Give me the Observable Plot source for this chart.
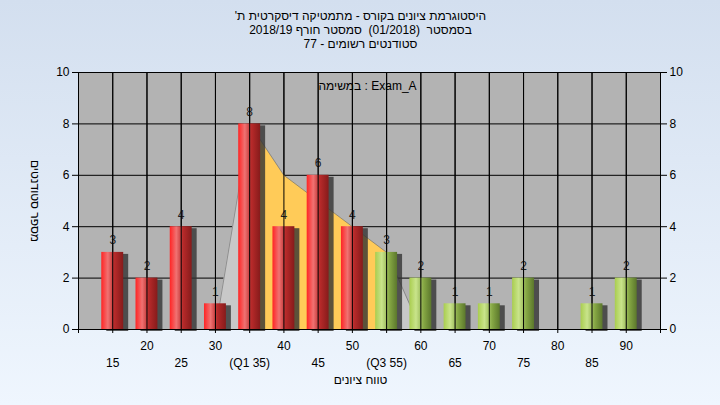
<!DOCTYPE html>
<html><head><meta charset="utf-8">
<script src="https://cdn.jsdelivr.net/npm/d3@7"></script>
<script src="https://cdn.jsdelivr.net/npm/@observablehq/plot@0.6"></script>
<style>
html,body{margin:0;padding:0;}
body{width:720px;height:405px;overflow:hidden;background:linear-gradient(#d3dfef,#eff6fe);font-family:"Liberation Sans",Arial,sans-serif;}
#chart svg{display:block;background:transparent;}
</style></head><body>
<div id="chart"></div>
<script>
// ---- data ----
const scores = [15,20,25,30,35,40,45,50,55,60,65,70,75,80,85,90];
const counts = [3,2,4,1,8,4,6,4,3,2,1,1,2,0,1,2];
const passMark = 55;
const curveX = [30,35,40,45,50,55,60];
const curveY = [0,8,6,5,4,3,0];
const q1 = 35, q3 = 55;
const yTicks = [0,2,4,6,8,10];
const rowATicks = [20,30,40,50,60,70,80,90];
const rowBTicks = [15,25,35,45,55,65,75,85];
const rowBLabels = ["15","25","(Q1 35)","45","(Q3 55)","65","75","85"];
const titleLines = [
  "'היסטוגרמת ציונים בקורס - מתמטיקה דיסקרטית ת",
  "בסמסטר  (01/2018)  סמסטר חורף 2018/19",
  "סטודנטים רשומים - 77"
];
const taskLabel = "במשימה : Exam_A";
const xTitle = "טווח ציונים";
const yTitle = "מספר סטודנטים";

const bars = scores.map((s, i) => ({score: s, count: counts[i]}));
const failBars = bars.filter(d => d.score < passMark && d.count > 0);
const passBars = bars.filter(d => d.score >= passMark && d.count > 0);
const curve = curveX.map((x, i) => ({x, y: curveY[i]}));
const curveIn = curve.filter(d => d.x >= q1 && d.x <= q3);
const curveLeft = curve.filter(d => d.x <= q1);
const curveRight = curve.filter(d => d.x >= q3);
const halfW = 1.6;
const font = "12px 'Liberation Sans', Arial, sans-serif";
const label = (txt, opts) => Plot.text([txt], {text: d => d, fontSize: 12, lineAnchor: "middle", textAnchor: "middle", ariaLabel: "ltr-words", ...opts});

const chart = Plot.plot({
  width: 720,
  height: 405,
  marginTop: 72,
  marginBottom: 76,
  marginLeft: 78,
  marginRight: 60,
  style: {font, color: "#000", background: "transparent", overflow: "visible"},
  x: {type: "linear", domain: [10, 95], axis: null},
  y: {domain: [0, 10], axis: null},
  marks: [
    Plot.frame({fill: "#b3b3b3"}),
    Plot.gridX(scores, {stroke: "#000", strokeOpacity: 1, strokeWidth: 1}),
    Plot.gridY(yTicks, {stroke: "#000", strokeOpacity: 1, strokeWidth: 1}),
    Plot.areaY(curveLeft, {x: "x", y: "y", fill: "#c8c8c8"}),
    Plot.areaY(curveRight, {x: "x", y: "y", fill: "#c8c8c8"}),
    Plot.areaY(curveIn, {x: "x", y: "y", fill: "#ffcb58"}),
    Plot.lineY(curve, {x: "x", y: "y", stroke: "#666", strokeWidth: 0.6}),
    Plot.rectY(bars.filter(d => d.count > 0), {x1: d => d.score - halfW, x2: d => d.score + halfW, y: "count", fill: "#333", fillOpacity: 0.8, dx: 5, dy: 2, ariaLabel: "bar-shadow"}),
    Plot.rectY(failBars, {x1: d => d.score - halfW, x2: d => d.score + halfW, y: "count", fill: "url(#redGrad)"}),
    Plot.rectY(passBars, {x1: d => d.score - halfW, x2: d => d.score + halfW, y: "count", fill: "url(#greenGrad)"}),
    Plot.text(bars.filter(d => d.count > 0), {x: "score", y: "count", text: d => String(d.count), dy: -12, fill: "#222", fontSize: 12}),
    Plot.frame({stroke: "#000", strokeWidth: 1}),
    Plot.axisY(yTicks, {anchor: "left", tickSize: 6, tickPadding: 3, fontSize: 12}),
    Plot.axisY(yTicks, {anchor: "right", tickSize: 6, tickPadding: 3, fontSize: 12}),
    Plot.tickX([10, ...scores, 95], {x: d => d, y1: 0, y2: 0, insetBottom: -4, stroke: "#000"}),
    Plot.axisX(rowATicks, {anchor: "bottom", tickSize: 0, tickPadding: 12, fontSize: 12}),
    Plot.axisX(rowBTicks, {anchor: "bottom", tickSize: 0, tickPadding: 29, fontSize: 12, tickFormat: d => rowBLabels[rowBTicks.indexOf(d)]}),
    label(titleLines[0], {frameAnchor: "top", dy: -56, dx: -9}),
    label(titleLines[1], {frameAnchor: "top", dy: -42, dx: -9}),
    label(titleLines[2], {frameAnchor: "top", dy: -28, dx: -9}),
    label(taskLabel, {frameAnchor: "top", dy: 14, dx: -2}),
    label(xTitle, {frameAnchor: "bottom", dy: 51, dx: -9}),
    label(yTitle, {frameAnchor: "left", dx: -44, rotate: 90})
  ]
});

const svg = d3.select(chart);
const defs = svg.insert("defs", ":first-child");
function grad(id, stops) {
  const g = defs.append("linearGradient").attr("id", id).attr("x1", 0).attr("x2", 1).attr("y1", 0).attr("y2", 0);
  stops.forEach(([o, c]) => g.append("stop").attr("offset", o).attr("stop-color", c));
}
grad("redGrad", [[0, "#ff2424"], [0.3, "#f07272"], [0.6, "#b82a2a"], [1, "#861b1b"]]);
grad("greenGrad", [[0, "#a9cd4f"], [0.3, "#c9e48b"], [0.65, "#86a844"], [1, "#5b772c"]]);
defs.append("filter").attr("id", "blur").attr("x", "-50%").attr("y", "-20%").attr("width", "200%").attr("height", "140%")
  .append("feGaussianBlur").attr("stdDeviation", 2.2);
svg.select('g[aria-label="bar-shadow"]').attr("filter", "url(#blur)");

// labels: keep word order left-to-right, each Hebrew run isolated
svg.selectAll('g[aria-label="ltr-words"] text').each(function() {
  const t = d3.select(this);
  const s = t.text();
  t.text(null).style("direction", "ltr").attr("xml:space", "preserve");
  s.split(/([\u0590-\u05FF]+)/).filter(p => p.length).forEach(part => {
    const ts = t.append("tspan").text(part);
    if (/[\u0590-\u05FF]/.test(part)) ts.style("unicode-bidi", "isolate").style("direction", "rtl");
  });
});

document.getElementById("chart").appendChild(chart);
</script>
</body></html>
